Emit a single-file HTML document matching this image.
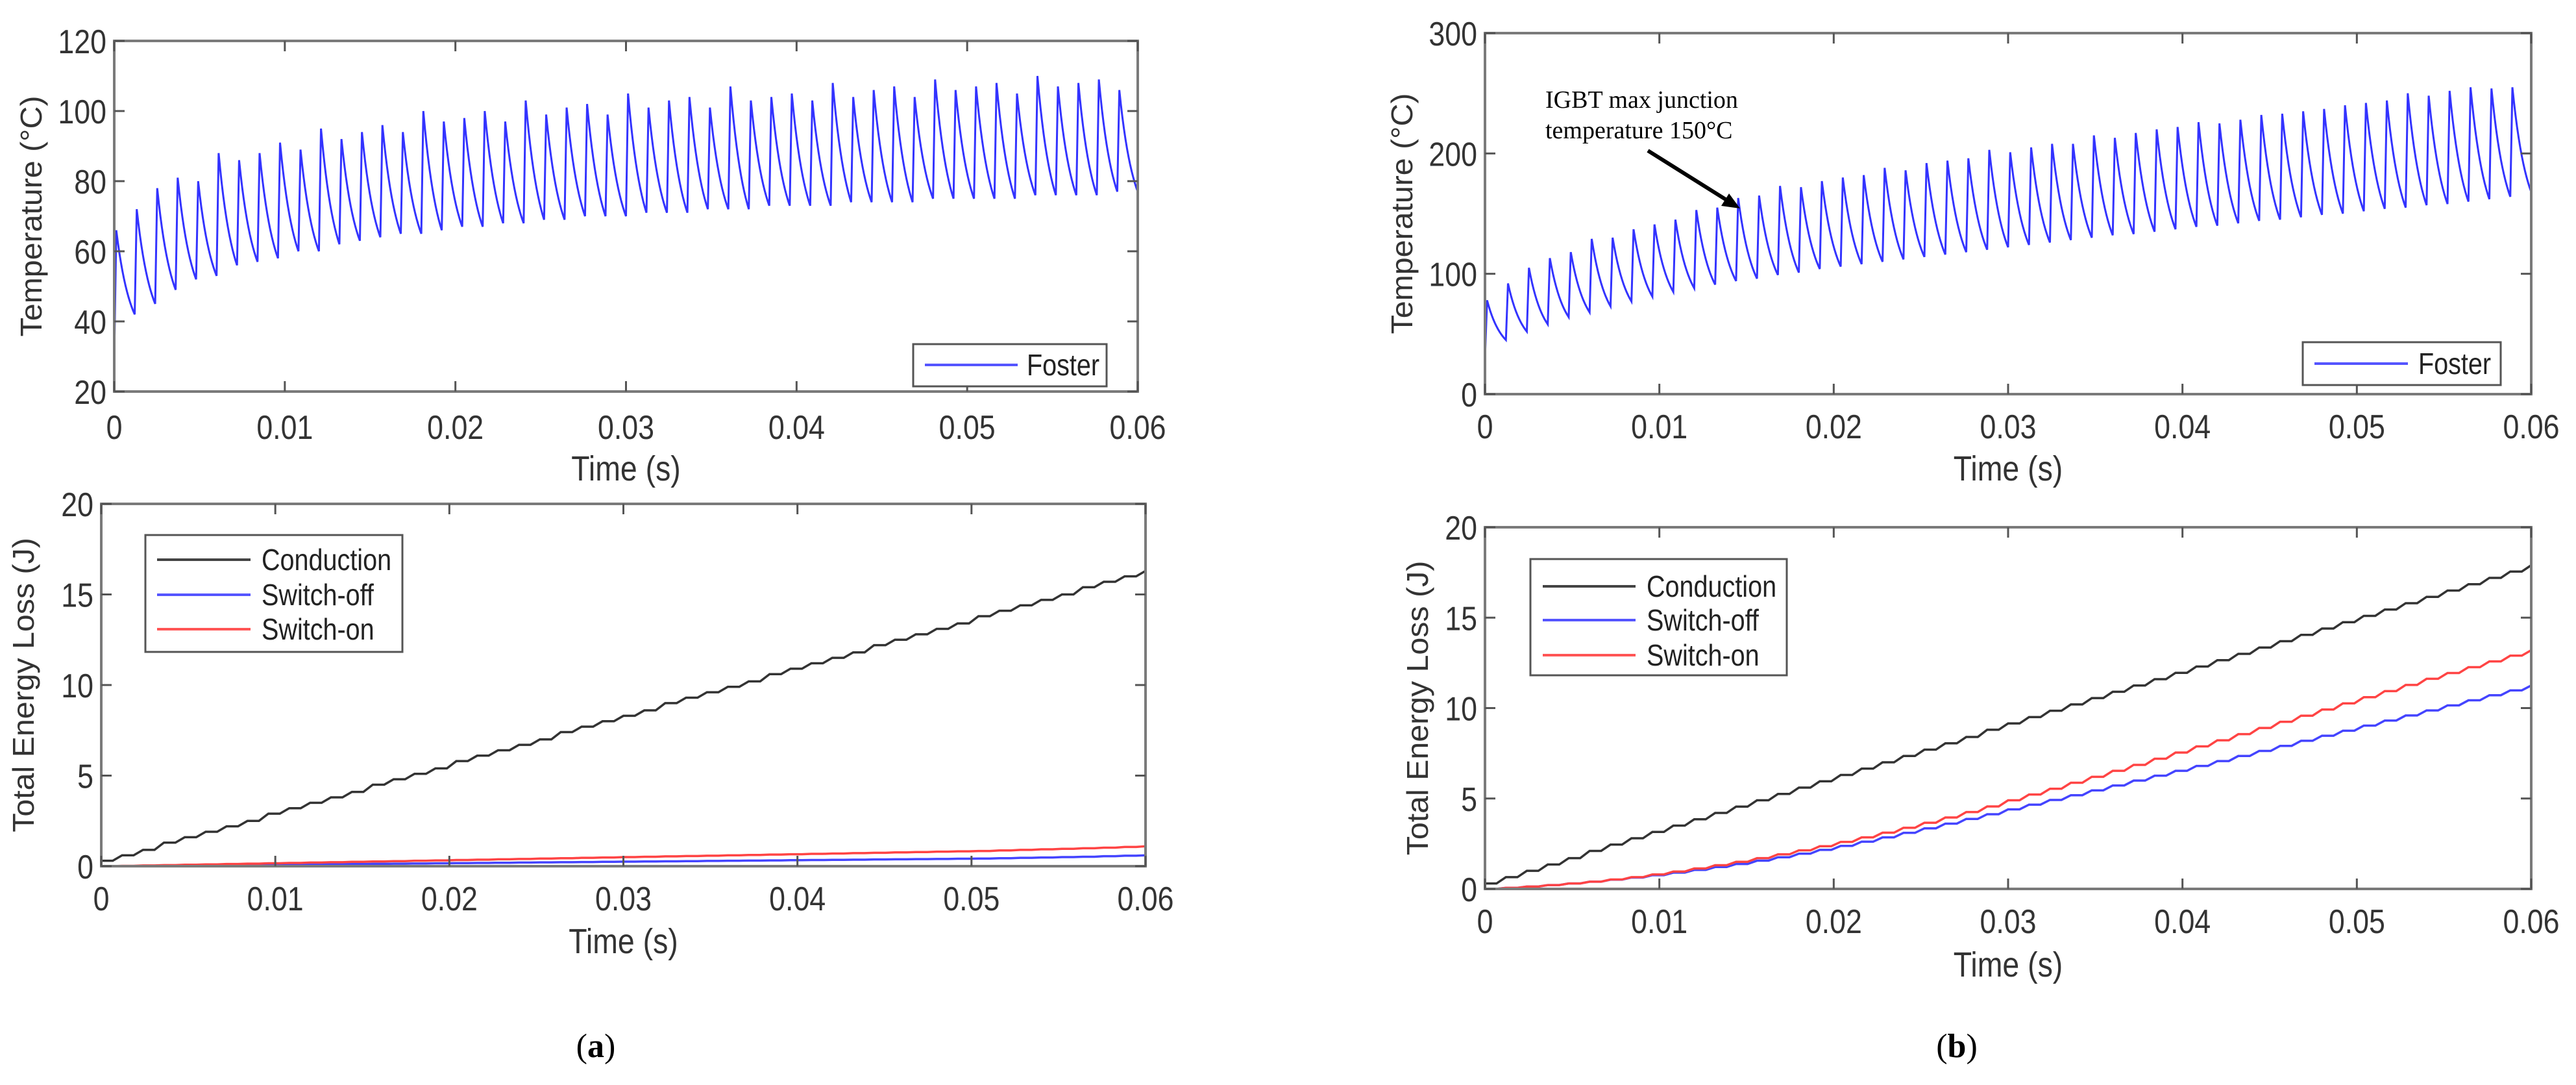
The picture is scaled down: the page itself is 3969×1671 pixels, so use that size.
<!DOCTYPE html>
<html><head><meta charset="utf-8"><style>
html,body{margin:0;padding:0;background:#fff;}
svg{display:block;font-family:"Liberation Sans",sans-serif;}
</style></head><body>
<svg id="fig" width="3969" height="1671" viewBox="0 0 3969 1671" xmlns="http://www.w3.org/2000/svg">
<rect width="3969" height="1671" fill="#fff"/>
<text x="918" y="1628" font-family="Liberation Serif,serif" font-size="52" text-anchor="middle" fill="#000">(<tspan font-weight="bold">a</tspan>)</text>
<text x="3015" y="1628" font-family="Liberation Serif,serif" font-size="52" text-anchor="middle" fill="#000">(<tspan font-weight="bold">b</tspan>)</text>
</svg>
<script>
const xTicks = [0,0.01,0.02,0.03,0.04,0.05,0.06];
const xTickLabels = ["0","0.01","0.02","0.03","0.04","0.05","0.06"];
const tempTicksA = [20,40,60,80,100,120];
const tempTicksB = [0,100,200,300];
const energyTicks = [0,5,10,15,20];
const tempStartA = 30;
const tempPeaksA = [66,72,78,81,80,88,86,88,91,89,95,92,94,96,94,100,97,98,100,97,103,99,101,102,99,105,101,103,104,101,107,103,104,105,103,108,104,106,107,104,109,106,107,108,105,110,107,108,109,106];
const tempTroughsA = [42,45,49,52,53,56,57,58,60,60,62,63,64,65,65,66,67,67,68,68,69,69,70,70,70,71,71,71,72,72,72,73,73,73,73,74,74,74,74,75,75,75,75,75,76,76,76,76,77,77];
const tempStartB = 30;
const tempPeaksB = [78,92,105,113,118,129,130,137,141,145,153,155,163,165,173,172,177,180,182,188,186,192,194,196,203,201,205,208,208,215,213,217,220,222,226,225,228,232,233,235,237,240,242,244,250,248,252,255,254,255];
const tempTroughsB = [45,52,58,64,68,73,77,81,85,88,91,94,96,99,101,104,106,108,110,112,114,116,118,120,122,124,126,128,130,132,133,135,137,139,140,142,144,145,147,149,150,152,154,155,157,158,160,162,164,168];
const condA = [0.3,0.6,0.9,1.3,1.6,1.9,2.2,2.5,2.9,3.2,3.5,3.8,4.1,4.5,4.8,5.1,5.4,5.8,6.1,6.4,6.7,7.0,7.4,7.7,8.0,8.3,8.6,9.0,9.3,9.6,9.9,10.2,10.6,10.9,11.2,11.5,11.8,12.2,12.5,12.8,13.1,13.4,13.8,14.1,14.4,14.7,15.0,15.4,15.7,16.0,16.3];
const offA = [0,0.01,0.02,0.03,0.04,0.05,0.06,0.07,0.08,0.09,0.1,0.11,0.12,0.13,0.14,0.15,0.16,0.17,0.18,0.19,0.2,0.21,0.22,0.23,0.24,0.25,0.26,0.27,0.28,0.29,0.3,0.31,0.32,0.33,0.34,0.35,0.36,0.37,0.38,0.39,0.4,0.41,0.42,0.44,0.46,0.48,0.5,0.52,0.55,0.58,0.6];
const onA = [0,0.02,0.04,0.06,0.08,0.1,0.12,0.14,0.16,0.18,0.2,0.22,0.24,0.26,0.28,0.3,0.32,0.34,0.36,0.38,0.4,0.42,0.44,0.46,0.48,0.5,0.52,0.54,0.56,0.58,0.6,0.62,0.64,0.66,0.68,0.7,0.72,0.74,0.76,0.78,0.8,0.82,0.84,0.87,0.9,0.93,0.96,0.99,1.02,1.06,1.1];
const condB = [0.3,0.65,1.0,1.35,1.7,2.1,2.45,2.8,3.15,3.5,3.85,4.2,4.55,4.9,5.25,5.6,5.95,6.3,6.65,7.0,7.35,7.7,8.05,8.4,8.8,9.15,9.5,9.85,10.2,10.55,10.9,11.25,11.6,11.95,12.3,12.65,13.0,13.35,13.7,14.05,14.4,14.75,15.1,15.45,15.8,16.15,16.5,16.85,17.2,17.55,17.9];
const onB = [0,0.06,0.13,0.21,0.3,0.4,0.52,0.65,0.8,0.96,1.13,1.31,1.5,1.7,1.91,2.13,2.36,2.6,2.85,3.11,3.38,3.66,3.95,4.25,4.56,4.9,5.22,5.54,5.87,6.2,6.53,6.86,7.2,7.54,7.88,8.22,8.56,8.9,9.24,9.58,9.92,10.26,10.6,10.94,11.28,11.62,11.94,12.26,12.58,12.9,13.2];
const offB = [0,0.06,0.13,0.21,0.3,0.4,0.51,0.63,0.76,0.9,1.05,1.21,1.38,1.56,1.75,1.95,2.16,2.38,2.61,2.85,3.1,3.35,3.61,3.87,4.13,4.4,4.66,4.92,5.18,5.45,5.72,5.99,6.26,6.53,6.8,7.07,7.35,7.63,7.91,8.19,8.47,8.75,9.03,9.31,9.59,9.87,10.15,10.43,10.71,10.98,11.25];

const NS="http://www.w3.org/2000/svg";
const svg=document.getElementById('fig');
function el(tag,attrs,parent){const e=document.createElementNS(NS,tag);for(const k in attrs)e.setAttribute(k,attrs[k]);(parent||svg).appendChild(e);return e;}
function ctext(parent,x,y,size,anchor,str,rot){
  const t=el('text',{x:0,y:0,'font-size':size,'text-anchor':anchor,fill:'#333',
    transform:rot?`translate(${x},${y}) rotate(-90) scale(1.05,1)`:`translate(${x},${y}) scale(0.86,1)`},parent);
  t.textContent=str;return t;
}

function axes(c){
  const g=el('g',{});
  
  
  const sx=v=>c.L+(v-0)/(0.06)*(c.R-c.L);
  const sy=v=>c.B-(v-c.ymin)/(c.ymax-c.ymin)*(c.B-c.T);
  const box=el('rect',{x:c.L,y:c.T,width:c.R-c.L,height:c.B-c.T,fill:'#fff',stroke:'none'},g);
  
  
  return {g,sx,sy};
}
function frame(c,a){
  const g=a.g;
  const fr=el('rect',{x:c.L,y:c.T,width:c.R-c.L,height:c.B-c.T,fill:'none',stroke:'#7a7a7a','stroke-width':4},g);
  
  
  xTicks.forEach((v,i)=>{
    const x=a.sx(v);
    el('line',{x1:x,y1:c.B,x2:x,y2:c.B-16,stroke:'#555','stroke-width':3},g);
    el('line',{x1:x,y1:c.T,x2:x,y2:c.T+16,stroke:'#555','stroke-width':3},g);
    const t=ctext(g,x,c.tickY+4,52,'middle',xTickLabels[i]);
    
    
  });
  c.yticks.forEach(v=>{
    const y=a.sy(v);
    el('line',{x1:c.L,y1:y,x2:c.L+16,y2:y,stroke:'#555','stroke-width':3},g);
    el('line',{x1:c.R,y1:y,x2:c.R-16,y2:y,stroke:'#555','stroke-width':3},g);
    const t=ctext(g,c.L-12,y+19,52,'end',String(v));
    
    
  });
  const xl=ctext(g,(c.L+c.R)/2,c.xlabY+6,54,'middle','Time (s)');
  
  
  const yl=ctext(g,c.ylabX,(c.T+c.B)/2,46,'middle',c.ylabel,true);
  
  
}
function tempPath(a,start,peaks,troughs){
  const n=peaks.length,P=0.06/n;let d='';let prev=start;
  for(let k=0;k<n;k++){
    const t0=k*P;
    if(k===0)d+=`M${a.sx(t0)},${a.sy(prev)}`;
    const tp=t0+0.1*P;
    d+=`L${a.sx(tp)},${a.sy(peaks[k])}`;
    for(let j=1;j<=12;j++){
      const u=j/12;const f=(Math.exp(-1.3*u)-Math.exp(-1.3))/(1-Math.exp(-1.3));
      const t=tp+u*(t0+P-tp);
      d+=`L${a.sx(t)},${a.sy(troughs[k]+(peaks[k]-troughs[k])*f)}`;
    }
    prev=troughs[k];
  }
  return d;
}
function stairPath(a,vals){
  const n=vals.length-1,w=0.06/n;let d=`M${a.sx(0)},${a.sy(vals[0])}`;
  for(let k=0;k<n;k++){
    const t0=k*w;
    d+=`L${a.sx(t0+0.55*w)},${a.sy(vals[k])}L${a.sx(t0+w)},${a.sy(vals[k+1])}`;
  }
  return d;
}
function legend(g,x,y,w,h,entries,lx1,lx2,tx,ys){
  const lg=el('g',{},g);
  
  
  el('rect',{x:x,y:y,width:w,height:h,fill:'#fff',stroke:'#555','stroke-width':3},lg);
  entries.forEach((e,i)=>{
    const it=el('g',{},lg);
    
    
    el('line',{x1:lx1,y1:ys[i],x2:lx2,y2:ys[i],stroke:e[1],'stroke-width':4},it);
    const t=ctext(it,tx,ys[i]+16,46,'start',e[0]);
    t.setAttribute('fill','#222');
  });
}

// Panel a top
let c={name:'temperature-chart-a',L:176,R:1753,T:63,B:603,ymin:20,ymax:120,yticks:tempTicksA,tickY:672,xlabY:734,ylabX:64,ylabel:'Temperature (°C)'};
let a=axes(c);
let p=el('path',{d:tempPath(a,tempStartA,tempPeaksA,tempTroughsA),fill:'none',stroke:'#3333ff','stroke-width':3},a.g);


frame(c,a);
legend(a.g,1407,530,298,65,[['Foster','#5555ff']],1425,1568,1582,[562]);

// Panel a bottom
c={name:'energy-chart-a',L:156,R:1765,T:776,B:1334,ymin:0,ymax:20,yticks:energyTicks,tickY:1398,xlabY:1462,ylabX:52,ylabel:'Total Energy Loss (J)'};
a=axes(c);
[[condA,'#333','conduction-line'],[offA,'#4444ff','switch-off-line'],[onA,'#ff4444','switch-on-line']].forEach(s=>{
  const q=el('path',{d:stairPath(a,s[0]),fill:'none',stroke:s[1],'stroke-width':3.5},a.g);
  
  
});
frame(c,a);
legend(a.g,224,824,396,180,[['Conduction','#444'],['Switch-off','#5555ff'],['Switch-on','#ff5555']],242,386,403,[862,916,969]);

// Panel b top
c={name:'temperature-chart-b',L:2288,R:3900,T:51,B:607,ymin:0,ymax:300,yticks:tempTicksB,tickY:671,xlabY:734,ylabX:2176,ylabel:'Temperature (°C)'};
a=axes(c);
p=el('path',{d:tempPath(a,tempStartB,tempPeaksB,tempTroughsB),fill:'none',stroke:'#3333ff','stroke-width':3},a.g);


frame(c,a);
legend(a.g,3548,527,305,66,[['Foster','#5555ff']],3566,3710,3726,[560]);
const ann=el('g',{},a.g);


let at=el('text',{x:2381,y:166,'font-family':'Liberation Serif,serif','font-size':38,fill:'#000'},ann);
at.textContent='IGBT max junction';
at=el('text',{x:2381,y:213,'font-family':'Liberation Serif,serif','font-size':38,fill:'#000'},ann);
at.textContent='temperature 150°C';
el('line',{x1:2539,y1:232,x2:2665,y2:311,stroke:'#000','stroke-width':6},ann);
el('polygon',{points:'2681,321 2652,317 2664,298',fill:'#000'},ann);

// Panel b bottom
c={name:'energy-chart-b',L:2288,R:3900,T:812,B:1369,ymin:0,ymax:20,yticks:energyTicks,tickY:1433,xlabY:1498,ylabX:2200,ylabel:'Total Energy Loss (J)'};
a=axes(c);
[[condB,'#333','conduction-line'],[offB,'#4444ff','switch-off-line'],[onB,'#ff4444','switch-on-line']].forEach(s=>{
  const q=el('path',{d:stairPath(a,s[0]),fill:'none',stroke:s[1],'stroke-width':3.5},a.g);
  
  
});
frame(c,a);
legend(a.g,2358,861,395,179,[['Conduction','#444'],['Switch-off','#5555ff'],['Switch-on','#ff5555']],2377,2520,2537,[903,955,1009]);
</script>
</body></html>
